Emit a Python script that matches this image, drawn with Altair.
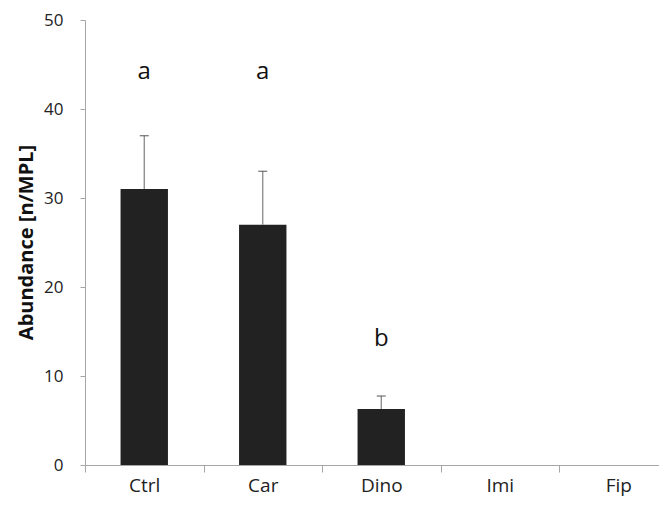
import altair as alt
import pandas as pd

categories = ["Ctrl", "Car", "Dino", "Imi", "Fip"]
means = [31.0, 27.0, 6.3, 0.0, 0.0]
errors = [6.0, 6.0, 1.45, 0.0, 0.0]
letters = ["a", "a", "b", "", ""]
letter_y = [44.2, 44.2, 14.2, 0.0, 0.0]
y_ticks = [0, 10, 20, 30, 40, 50]

idx = list(range(len(categories)))
df = pd.DataFrame({
    "cat": categories,
    "i": idx,
    "left": [i + 0.3 for i in idx],
    "right": [i + 0.7 for i in idx],
    "center": [i + 0.5 for i in idx],
    "mean": means,
    "upper": [m + e for m, e in zip(means, errors)],
    "err": errors,
    "letter": letters,
    "ly": letter_y,
})

FONT = "Open Sans"
AXIS_COLOR = "#a6a6a6"
names_js = "[" + ",".join("'" + c + "'" for c in categories) + "]"

PLOT_W = 574
STEP = 118.5
xscale = alt.Scale(domain=[0, PLOT_W / STEP], nice=False, zero=False)
yscale = alt.Scale(domain=[0, 50], nice=False)

x_axis = alt.Axis(
    title=None,
    values=[0, 0.5, 1, 1.5, 2, 2.5, 3, 3.5, 4, 4.5],
    labelExpr="datum.value % 1 == 0.5 ? " + names_js + "[floor(datum.value)] : ''",
    tickOpacity=alt.expr("datum.value % 1 == 0 ? 1 : 0"),
    tickSize=7,
    tickColor=AXIS_COLOR,
    domainColor=AXIS_COLOR,
    labelOverlap=False,
    labelFlush=False,
    labelBound=False,
    labelFont=FONT,
    labelFontSize=19,
    labelColor="#222222",
    labelPadding=4,
    grid=False,
)

y_axis = alt.Axis(
    title="Abundance [n/MPL]",
    values=y_ticks,
    tickSize=5,
    tickColor=AXIS_COLOR,
    domainColor=AXIS_COLOR,
    labelFont=FONT,
    labelFontSize=17,
    labelColor="#222222",
    labelPadding=17,
    titleFont=FONT,
    titleFontSize=20,
    titleFontWeight="bold",
    titleColor="#111111",
    titleAngle=-90,
    titleAlign="center",
    titleBaseline="middle",
    titleX=-59,
    titleY=222,
    grid=False,
)

base = alt.Chart(df)

bars = base.transform_filter("datum.mean > 0").mark_bar(color="#222222").encode(
    x=alt.X("left:Q", scale=xscale, axis=x_axis),
    x2="right:Q",
    y=alt.Y("mean:Q", scale=yscale, axis=y_axis),
    y2=alt.datum(0),
)

err_rule = base.transform_filter("datum.err > 0").mark_rule(color="#7f7f7f", strokeWidth=1.2).encode(
    x=alt.X("center:Q", scale=xscale),
    y=alt.Y("mean:Q", scale=yscale),
    y2="upper:Q",
)

err_cap = base.transform_filter("datum.err > 0").mark_tick(
    color="#444444", orient="horizontal", size=9, thickness=1.3
).encode(
    x=alt.X("center:Q", scale=xscale),
    y=alt.Y("upper:Q", scale=yscale),
)

text = base.transform_filter("datum.letter != ''").mark_text(
    font=FONT, fontSize=24, color="#111111", baseline="middle", align="center"
).encode(
    x=alt.X("center:Q", scale=xscale),
    y=alt.Y("ly:Q", scale=yscale),
    text="letter:N",
)

chart = alt.layer(bars, err_rule, err_cap, text).properties(
    width=PLOT_W,
    height=445,
    autosize=alt.AutoSizeParams(type="none"),
    padding={"left": 77, "top": 12, "right": 0, "bottom": 34},
    background="white",
).configure_view(stroke=None)

chart.save("out.html", embed_options={"renderer": "svg", "actions": False})
